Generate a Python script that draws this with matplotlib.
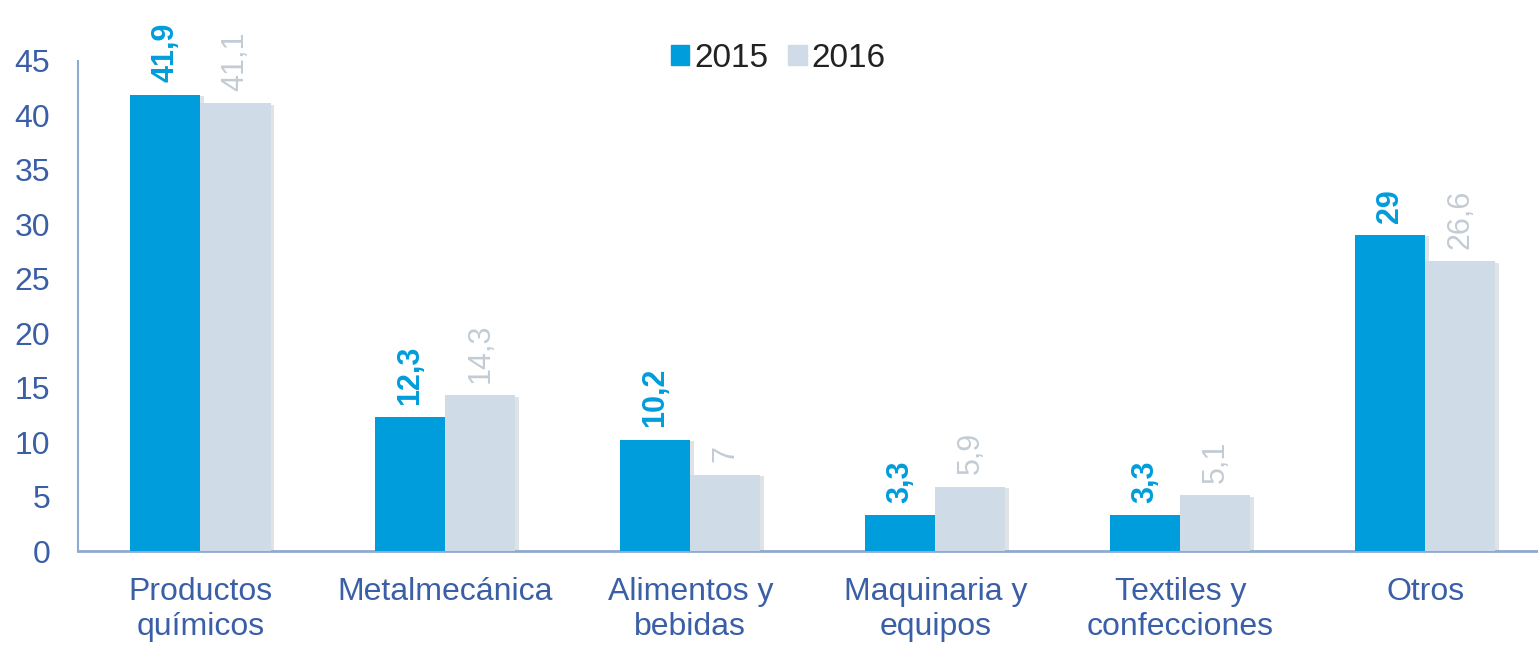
import numpy as np
import matplotlib
matplotlib.use('Agg')
import matplotlib.pyplot as plt
import matplotlib.patheffects as pe
from matplotlib.patches import Patch

plt.rcParams['font.family'] = ['Liberation Sans', 'DejaVu Sans']

categorias = ['Productos\nquímicos', 'Metalmecánica', 'Alimentos y\nbebidas',
              'Maquinaria y\nequipos', 'Textiles y\nconfecciones', 'Otros']
valores_2015 = [41.9, 12.3, 10.2, 3.3, 3.3, 29]
valores_2016 = [41.1, 14.3, 7, 5.9, 5.1, 26.6]
etiquetas_2015 = ['41,9', '12,3', '10,2', '3,3', '3,3', '29']
etiquetas_2016 = ['41,1', '14,3', '7', '5,9', '5,1', '26,6']

azul = '#009ddc'
gris = '#cfdbe6'
texto_eje = '#3a5fa6'
linea_eje = '#8eaad0'

fig = plt.figure(figsize=(15.38, 6.46), dpi=100)
ax = fig.add_axes([0.0507, 0.147, 0.9493, 0.759])

x = np.arange(len(categorias))
w = 0.286
sombra = [pe.SimplePatchShadow(offset=(2.5, -1), shadow_rgbFace='#9aa4ae', alpha=0.3), pe.Normal()]
b1 = ax.bar(x - w / 2, valores_2015, w, color=azul, zorder=3)
b2 = ax.bar(x + w / 2, valores_2016, w, color=gris, zorder=3)
for b in list(b1) + list(b2):
    b.set_path_effects(sombra)

for xi, v, t in zip(x, valores_2015, etiquetas_2015):
    ax.annotate(t, (xi - w / 2, v), xytext=(0, 9), textcoords='offset points',
                rotation=90, ha='center', va='bottom', color=azul,
                fontsize=22, fontweight='bold', annotation_clip=False)
for xi, v, t in zip(x, valores_2016, etiquetas_2016):
    ax.annotate(t, (xi + w / 2, v), xytext=(0, 9), textcoords='offset points',
                rotation=90, ha='center', va='bottom', color='#c3ccd5',
                fontsize=22, annotation_clip=False)

ax.set_xlim(-0.5, 5.46)
ax.set_ylim(0, 45)
ax.set_yticks(range(0, 46, 5))
ax.set_xticks(x)
ax.set_xticklabels(categorias, fontsize=23, color=texto_eje, linespacing=1.22)
ax.tick_params(axis='y', length=0, labelsize=23, labelcolor=texto_eje, pad=20)
ax.tick_params(axis='x', length=0, pad=19)

for s in ['top', 'right']:
    ax.spines[s].set_visible(False)
ax.spines['left'].set_color(linea_eje)
ax.spines['bottom'].set_color(linea_eje)
ax.spines['left'].set_linewidth(1.5)
ax.spines['bottom'].set_linewidth(2)

handles = [Patch(color=azul), Patch(color=gris)]
fig.legend(handles=handles, labels=['2015', '2016'], loc='center',
           bbox_to_anchor=(0.506, 0.91), ncol=2, frameon=False, fontsize=24,
           handlelength=0.55, handleheight=0.55, handletextpad=0.15, columnspacing=0.6,
           labelcolor='#222222')

fig.savefig('out.png', dpi=100)
